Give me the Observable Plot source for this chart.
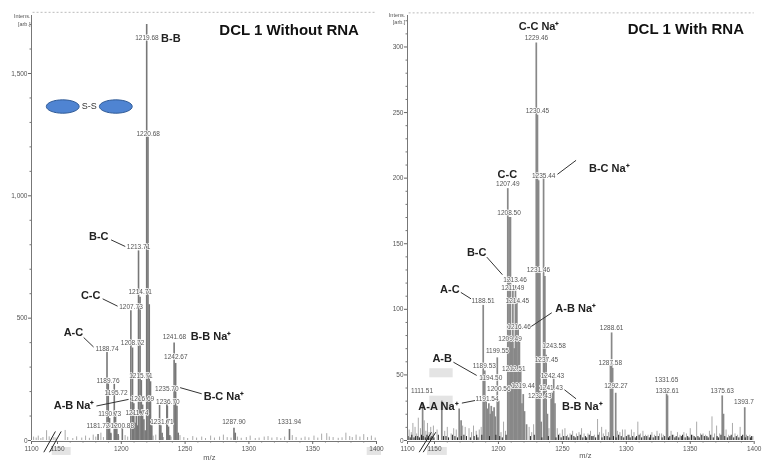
<!DOCTYPE html>
<html>
<head>
<meta charset="utf-8">
<script src="https://cdn.jsdelivr.net/npm/d3@7"></script>
<script src="https://cdn.jsdelivr.net/npm/@observablehq/plot@0.6"></script>
<style>
html,body{margin:0;padding:0;background:#fff;}
#wrap{position:relative;width:762px;height:460px;overflow:hidden;}
#wrap svg{position:absolute;top:0;overflow:visible;background:none;filter:blur(0.3px);}
</style>
</head>
<body>
<div id="wrap"></div>
<script>
// ---------- DCL 1 Without RNA ----------
const leftPeakMz = [1181.8,1188.8,1189.8,1190.8,1191.8,1194.5,1195.5,1196.5,1197.5,1200.8,1207.5,1208.8,1209.8,1210.8,1211.8,1212.7,1213.5,1214.7,1215.7,1216.7,1217.7,1218.7,1219.9,1220.9,1221.9,1222.9,1223.9,1230,1231,1232,1235.7,1236.1,1237,1238,1241.4,1242.6,1243.6,1244.6,1288.3,1289.3,1331.8];
const leftPeakI  = [25,360,235,90,30,230,108,60,25,50,530,378,150,70,100,60,775,585,245,145,85,40,1700,1240,555,240,60,143,60,30,150,140,55,20,398,315,140,30,50,30,45];
const leftNoiseMz = [1104,1109,1113,1118,1122,1129,1134,1139,1143,1147,1156,1158,1162,1165,1169,1172,1175,1178,1180,1184,1186,1192,1198,1203,1205,1225,1227,1233,1239,1246,1249,1252,1256,1259,1263,1266,1270,1273,1277,1280,1283,1286,1291,1294,1298,1301,1305,1308,1312,1315,1318,1322,1325,1328,1334,1337,1341,1344,1347,1351,1354,1357,1361,1363,1366,1370,1373,1376,1379,1381,1384,1387,1390,1393,1396,1399];
const leftNoiseI  = [14,10,18,8,12,40,15,9,12,10,41,12,8,15,10,18,9,22,14,30,12,25,18,20,14,18,22,12,14,20,12,8,16,10,14,8,18,10,14,22,12,10,14,9,12,18,8,10,14,16,10,12,8,14,20,12,9,14,11,18,10,26,28,14,12,9,11,30,16,12,22,14,24,12,18,10];
const leftLabelText = ["1219.68","1220.68","1213.71","1214.71","1207.73","1208.72","1188.74","1189.76","1195.72","1215.71","1216.69","1190.73","1211.74","1181.72","1200.88","1241.68","1242.67","1235.70","1236.70","1231.71","1287.90","1331.94"];
const leftLabelMz   = [1220.1,1221.1,1213.5,1214.8,1207.6,1208.8,1188.8,1189.6,1195.9,1215.4,1216.6,1190.9,1212.3,1181.8,1200.8,1241.6,1242.7,1235.7,1236.5,1231.8,1288.3,1331.8];
const leftLabelI    = [1644,1252,790,606,546,399,373,244,195,262,169,107,112,58,58,424,340,212,159,78,75,78];
const leftNameText = ["B-B","B-C","C-C","A-C","B-B Na⁺","B-C Na⁺","A-B Na⁺"];
const leftNameMz   = [1238.8,1182.3,1176,1162.5,1270.3,1280.5,1163];
const leftNameI    = [1644,834,592.6,441,424,181,143];
const leftLeaderMz1 = [1192,1185.4,1170.5,1246.1,1180.5];
const leftLeaderI1  = [820,579,421,216,141];
const leftLeaderMz2 = [1203.1,1197.1,1178.3,1263,1205.7];
const leftLeaderI2  = [793,549,382,191,168];
const leftEllipseMz = [1154.1,1195.7];
const leftEllipseI  = [1365,1365];

// ---------- DCL 1 With RNA ----------
const rightPeakMz = [1128,1155.7,1169.3,1170.8,1188.1,1189.3,1190.4,1191.2,1192.5,1193.6,1194.4,1195.5,1196.6,1197.5,1199.1,1200.2,1207.3,1208.3,1209.4,1210.3,1211.3,1212.3,1213.3,1214.4,1215.4,1216.4,1217.4,1218.4,1219.4,1220.4,1222,1229.6,1230.5,1231.4,1232.4,1233.4,1235.3,1236.3,1237.3,1238.3,1241.2,1242.2,1243.2,1244.2,1287.6,1288.5,1289.3,1291.7,1331.5,1332.2,1375,1376,1392.6];
const rightPeakI  = [28,30,24,15,103,53,30,24,28,20,26,22,25,18,63,30,192,170,170,75,115,70,118,105,85,75,55,28,35,22,12,303,248,198,128,14,200,125,65,20,36,36,50,28,57,82,55,36,38,34,34,20,25];
const rightNoiseMz = [1103,1107,1110,1114,1117,1120,1124,1131,1134,1137,1140,1143,1146,1148,1152,1158,1160,1163,1165,1167,1172,1174,1177,1179,1180.5,1182.6,1185,1186.5,1202,1204,1205.5,1224,1226,1227.5,1239.5,1246,1248,1250,1252,1254,1256,1258,1261,1263,1265,1267,1270,1272,1275,1277.5,1279,1280.7,1282,1284,1286,1293,1295,1297,1299,1301,1304,1306,1309,1311,1313,1315,1317,1320,1322,1324,1326,1327.6,1329,1335,1337,1340,1342,1345,1347,1350,1352,1355,1358,1360,1362,1365,1367,1369,1370.6,1373,1378,1380,1383,1385,1387,1389,1394,1396.6,1399];
const rightNoiseI  = [8,6,13,10,5,17,9,15,7,13,6,10,5,11,8,7,10,5,9,8,11,10,9,6,11,7,8,10,6,14,7,10,6,12,9,9,5,8,9,4,5,7,5,6,9,5,5,7,4,16,6,10,5,8,6,7,6,8,8,4,8,6,14,5,7,4,4,6,4,7,5,5,4,7,4,6,4,6,5,9,4,14,5,5,4,7,18,5,11,5,8,4,13,5,4,10,4,4,3];
const rightFloorMz = [1101,1105,1108,1112,1115,1119,1122,1126,1129,1133,1136,1139,1142,1145,1149,1153,1157,1159,1161,1164,1166,1168,1171,1173,1175,1178,1181,1183,1184,1187,1193,1198,1201,1203,1206,1225,1228,1234,1239,1245,1247,1249,1251,1253,1255,1257,1259,1260,1262,1264,1266,1268,1269,1271,1273,1274,1276,1278,1281,1283,1285,1287,1290,1292,1294,1296,1298,1300,1302,1303,1305,1307,1308,1310,1312,1314,1316,1318,1319,1321,1323,1325,1328,1330,1333,1334,1336,1338,1339,1341,1343,1344,1346,1348,1349,1351,1353,1354,1356,1357,1359,1361,1363,1364,1366,1368,1371,1372,1374,1377,1379,1381,1382,1384,1386,1388,1390,1391,1393,1395,1397,1398];
const rightFloorI  = [3,2,4,2,3,3,2,4,3,2,4,3,2,3,2,4,3,3,2,4,3,2,3,4,3,2,3,4,2,4,3,4,3,2,4,3,4,2,3,2,4,2,3,3,2,4,3,2,3,4,2,3,2,4,3,3,2,4,2,3,3,2,3,2,4,3,2,3,4,2,3,2,3,4,2,3,3,2,4,2,3,3,2,3,2,3,4,2,3,2,3,4,2,3,2,4,3,2,3,2,4,3,3,2,4,2,3,2,4,3,2,3,4,2,3,2,3,4,2,3,2,3];
const rightLabelText = ["1229.46","1230.45","1235.44","1207.49","1208.50","1231.46","1213.46","1211.49","1214.45","1188.51","1216.46","1209.49","1243.58","1199.55","1237.45","1189.53","1212.51","1194.50","1242.43","1200.56","1219.44","1241.43","1232.43","1191.54","1111.51","1288.61","1287.58","1292.27","1331.65","1332.61","1375.63","1393.7"];
const rightLabelMz   = [1229.7,1230.5,1235.4,1207.3,1208.3,1231.25,1213,1211.2,1214.8,1188,1216.1,1209.1,1243.5,1199.2,1237.5,1189,1212,1194,1242.2,1200.3,1219.3,1241.1,1232.3,1191.1,1127,1288.5,1287.5,1291.9,1331.5,1332,1375,1391.9];
const rightLabelI    = [306.9,251.5,201.6,195.3,173.4,130.4,122.8,116.2,106.3,106.3,86.4,77.3,71.9,68.4,61.5,57,54.2,48,49,39.7,41.7,40.2,33.8,31.8,37.9,86.2,59.5,41.4,46.5,37.6,37.6,29.5];
const rightNameText = ["C-C Na⁺","B-C Na⁺","C-C","B-C","A-C","A-B Na⁺","A-B","A-A Na⁺","B-B Na⁺"];
const rightNameMz   = [1231.8,1286.7,1207,1183,1162,1260.4,1156,1153.1,1265.6];
const rightNameI    = [315.3,207.7,203.1,143.2,115.4,100.4,62.5,25.9,25.9];
const rightLeaderMz1 = [1246.1,1190.9,1170.6,1225.3,1164.8,1171.4,1251.6];
const rightLeaderI1  = [202.9,139.8,112.9,86.7,59.7,28.5,38.7];
const rightLeaderMz2 = [1260.7,1203.1,1178.6,1241.7,1183,1181.8,1260.7];
const rightLeaderI2  = [213.6,126.4,108,97.4,49.6,30.5,31.8];
const rightBoxMz1 = [1137,1141.3,1141.3];
const rightBoxMz2 = [1160,1164.6,1164.6];
const rightBoxI1  = [-5.3,47.8,22.9];
const rightBoxI2  = [-11.4,54.7,33.8];

// ---------- Axes ----------
const xMajor = [1100,1150,1200,1250,1300,1350,1400];
const xMinor = [1160,1170,1180,1190,1210,1220,1230,1240,1260,1270,1280,1290,1310,1320,1330,1340,1360,1370,1380,1390];
const leftYMajor = [0,500,1000,1500];
const leftYMinor = [100,200,300,400,600,700,800,900,1100,1200,1300,1400,1600,1700];
const rightYMajor = [0,50,100,150,200,250,300];
const rightYMinor = [10,20,30,40,60,70,80,90,110,120,130,140,160,170,180,190,210,220,230,240,260,270,280,290,310,320];

const pairs = (xs, ys) => xs.map((x, i) => ({x, y: ys[i]}));
const font = "'Liberation Sans', Arial, sans-serif";
const ellipseSymbol = {
  draw(ctx, size) {
    const r = Math.sqrt(size / Math.PI), a = r * 2.45, b = r, ka = a * 0.5523, kb = b * 0.5523;
    ctx.moveTo(-a, 0);
    ctx.bezierCurveTo(-a, -kb, -ka, -b, 0, -b);
    ctx.bezierCurveTo(ka, -b, a, -kb, a, 0);
    ctx.bezierCurveTo(a, kb, ka, b, 0, b);
    ctx.bezierCurveTo(-ka, b, -a, kb, -a, 0);
    ctx.closePath();
  }
};

function panel(o) {
  return Plot.plot({
    width: 381, height: 460,
    marginTop: 15, marginBottom: 20, marginLeft: o.xRange[0], marginRight: 381 - o.xRange[2],
    style: {fontFamily: font, background: "transparent", overflow: "visible"},
    x: {type: "linear", domain: [1100, 1150, 1400], range: o.xRange, label: null},
    y: {type: "linear", domain: o.yDomain, range: [440, 15], label: null},
    marks: [
      Plot.rect(o.boxes, {x1: "x1", x2: "x2", y1: "y1", y2: "y2", fill: "#e4e4e4"}),
      Plot.ruleX(pairs(o.noiseMz, o.noiseI), {x: "x", y: "y", stroke: "#aaa", strokeWidth: 1}),
      Plot.ruleX(pairs(o.peakMz, o.peakI), {x: "x", y: "y", stroke: o.peakColor, strokeWidth: o.peakWidth}),
      Plot.ruleX(pairs(o.floorMz, o.floorI), {x: "x", y: "y", stroke: o.floorColor, strokeWidth: 1}),
      Plot.ruleY([o.topDash], {x1: 1103, x2: 1400, stroke: "#bbb", strokeDasharray: "2,2", strokeWidth: 1}),
      Plot.axisY({ticks: o.yMajor, tickSize: 3, tickPadding: 1, fontSize: 6.5, color: "#555", stroke: "#666", label: null, anchor: "left"}),
      Plot.axisY({ticks: o.yMinor, tickSize: 1.5, tickFormat: () => "", color: "#777", label: null, anchor: "left"}),
      Plot.ruleX([1100], {y1: 0, y2: o.yDomain[1], stroke: "#777", strokeWidth: 1}),
      Plot.ruleY([0], {stroke: "#777", strokeWidth: 1, dy: 1}),
      Plot.axisX({ticks: xMajor, tickSize: 3, tickPadding: 2, fontSize: 6.5, color: "#555", stroke: "#666", label: null, tickFormat: d => String(d), dy: 1}),
      Plot.axisX({ticks: xMinor, tickSize: 1.5, tickFormat: () => "", stroke: "#777", label: null, dy: 1}),
      Plot.link(o.slashes, {x1: "x1", y1: "y1", x2: "x2", y2: "y2", stroke: "#222", strokeWidth: 1}),
      Plot.link(o.leaders, {x1: "x1", y1: "y1", x2: "x2", y2: "y2", stroke: "#333", strokeWidth: 1}),
      Plot.text(o.labelText, {x: o.labelMz, y: o.labelI, text: d => d, fontSize: 6.5, fill: "#555", stroke: "white", strokeWidth: 1.5}),
      Plot.text(o.nameText, {x: o.nameMz, y: o.nameI, text: d => d, fontSize: 11, fontWeight: "bold", fill: "#222"}),
      Plot.text([o.title], {x: o.titleMz, y: o.titleI, text: d => d, fontSize: 15, fontWeight: "bold", fill: "#111"}),
      Plot.text(["Intens.", "[arb.]"], {x: o.intensMz, y: o.intensI, text: d => d, fontSize: 5.5, fill: "#555", textAnchor: "end"}),
      Plot.text(["m/z"], {x: [o.mzMz], y: [o.mzI], text: d => d, fontSize: 7.5, fill: "#555"}),
      ...(o.extra || [])
    ]
  });
}

const wrap = document.getElementById("wrap");

const leftChart = panel({
  xRange: [31, 57, 376], yDomain: [0, 1737], yMajor: leftYMajor, yMinor: leftYMinor, topDash: 1750,
  peakMz: leftPeakMz, peakI: leftPeakI, peakColor: "#777", peakWidth: 1.6,
  noiseMz: leftNoiseMz, noiseI: leftNoiseI, floorMz: [], floorI: [], floorColor: "#888",
  labelText: leftLabelText, labelMz: leftLabelMz, labelI: leftLabelI,
  nameText: leftNameText, nameMz: leftNameMz, nameI: leftNameI,
  leaders: leftLeaderMz1.map((x1, i) => ({x1, y1: leftLeaderI1[i], x2: leftLeaderMz2[i], y2: leftLeaderI2[i]})),
  slashes: [{x1: 1123.7, y1: -48, x2: 1146, y2: 37}, {x1: 1134.6, y1: -48, x2: 1152.9, y2: 37}],
  boxes: [{x1: 1139.8, x2: 1160.7, y1: -28.6, y2: -61}, {x1: 1392.7, x2: 1403.9, y1: -28.6, y2: -61}],
  title: "DCL 1 Without RNA", titleMz: 1331.5, titleI: 1678,
  intensMz: [1098, 1098], intensI: [1732, 1702], mzMz: 1269, mzI: -68,
  extra: [
    Plot.dot(leftEllipseMz, {x: d => d, y: leftEllipseI, r: 6.7, symbol: ellipseSymbol, fill: "#4f84d2", stroke: "#2f5a96", strokeWidth: 1}),
    Plot.text(["S-S"], {x: [1174.8], y: [1367], text: d => d, fontSize: 9, fill: "#333"})
  ]
});
leftChart.style.left = "0px";
wrap.appendChild(leftChart);

const rightChart = panel({
  xRange: [26, 53, 372.7], yDomain: [0, 324], yMajor: rightYMajor, yMinor: rightYMinor, topDash: 326,
  peakMz: rightPeakMz, peakI: rightPeakI, peakColor: "#888", peakWidth: 1.7,
  noiseMz: rightNoiseMz, noiseI: rightNoiseI, floorMz: rightFloorMz, floorI: rightFloorI, floorColor: "#222",
  labelText: rightLabelText, labelMz: rightLabelMz, labelI: rightLabelI,
  nameText: rightNameText, nameMz: rightNameMz, nameI: rightNameI,
  leaders: rightLeaderMz1.map((x1, i) => ({x1, y1: rightLeaderI1[i], x2: rightLeaderMz2[i], y2: rightLeaderI2[i]})),
  slashes: [{x1: 1121.7, y1: -8.9, x2: 1144.4, y2: 6.3}, {x1: 1129.1, y1: -8.9, x2: 1151, y2: 6.3}],
  boxes: rightBoxMz1.map((x1, i) => ({x1, x2: rightBoxMz2[i], y1: rightBoxI1[i], y2: rightBoxI2[i]})),
  title: "DCL 1 With RNA", titleMz: 1346.6, titleI: 313.3,
  intensMz: [1096, 1096], intensI: [324.4, 319], mzMz: 1268, mzI: -11.4
});
rightChart.style.left = "381px";
wrap.appendChild(rightChart);
</script>
</body>
</html>
